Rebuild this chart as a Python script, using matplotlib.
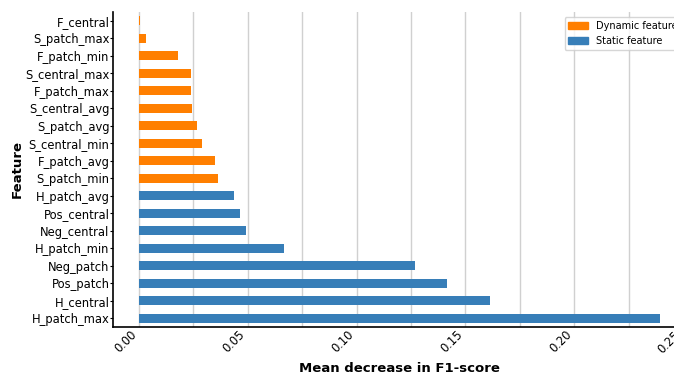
import matplotlib
matplotlib.use("Agg")
import matplotlib.pyplot as plt
from matplotlib.patches import Patch
from matplotlib.ticker import MultipleLocator

# bottom to top, as drawn
features = ["H_patch_max", "H_central", "Pos_patch", "Neg_patch", "H_patch_min",
            "Neg_central", "Pos_central", "H_patch_avg", "S_patch_min", "F_patch_avg",
            "S_central_min", "S_patch_avg", "S_central_avg", "F_patch_max",
            "S_central_max", "F_patch_min", "S_patch_max", "F_central"]
importance = [0.2394, 0.1613, 0.1415, 0.1268, 0.0666,
              0.0492, 0.0464, 0.0437, 0.0363, 0.0349,
              0.0290, 0.0267, 0.0244, 0.0239,
              0.0239, 0.0179, 0.0032, 0.0005]
kind = ["static"] * 8 + ["dynamic"] * 10

colors = {"dynamic": "#ff7f00", "static": "#377eb8"}

fig = plt.figure(figsize=(6.74, 3.73), dpi=100)
ax = fig.add_axes([113 / 674, 46 / 373, (686 - 113) / 674, (327 - 12) / 373])

ax.barh(range(len(features)), importance, height=0.5,
        color=[colors[k] for k in kind], zorder=3)
ax.set_yticks(range(len(features)))
ax.set_yticklabels(features, fontsize=8.3)
ax.set_ylim(-0.5, len(features) - 0.5)
ax.set_xlim(-0.012, 0.2514)

ax.xaxis.set_major_locator(MultipleLocator(0.05))
ax.xaxis.set_minor_locator(MultipleLocator(0.025))
ax.set_xticklabels([f"{v:.2f}" for v in ax.get_xticks()], rotation=45, ha="right",
                   fontsize=8.3)
ax.tick_params(axis="x", which="both", length=0, pad=1)
ax.tick_params(axis="y", length=2.2, width=0.8, pad=0.3)
ax.grid(axis="x", which="both", color="#d0d0d0", linewidth=1, zorder=0)

for s in ["top", "right"]:
    ax.spines[s].set_visible(False)
ax.spines["left"].set_linewidth(1.2)
ax.spines["bottom"].set_linewidth(1.2)

ax.set_xlabel("Mean decrease in F1-score", fontsize=9.5, fontweight="bold")
ax.set_ylabel("Feature", fontsize=9.5, fontweight="bold")
ax.xaxis.set_label_coords(0.5, -0.111)
ax.yaxis.set_label_coords(-0.155, 0.5)

handles = [Patch(color=colors["dynamic"], label="Dynamic feature"),
           Patch(color=colors["static"], label="Static feature")]
ax.legend(handles=handles, loc="upper right", fontsize=7)

fig.savefig("out.png", dpi=100)
